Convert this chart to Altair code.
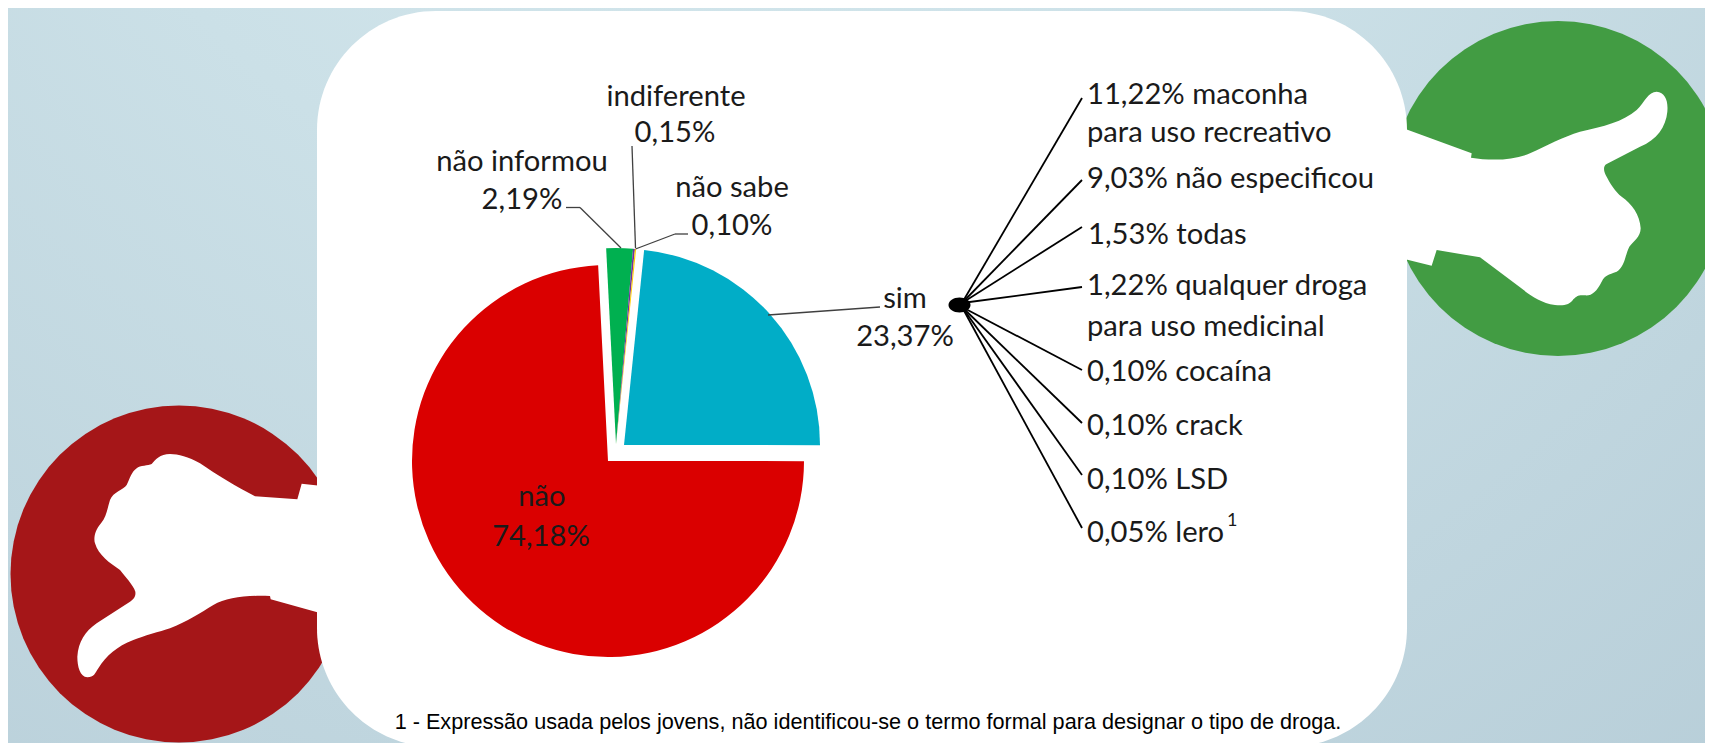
import math
import altair as alt
import pandas as pd

# ---- chart values ----
slice_names = ["sim", "não", "não informou", "indiferente", "não sabe"]
slice_values = [23.37, 74.18, 2.19, 0.15, 0.10]
slice_colors = ["#01ADC7", "#DA0000", "#00B050", "#7030A0", "#FFD000"]
slice_labels_top = ["sim", "não", "não informou", "indiferente", "não sabe"]
slice_labels_pct = ["23,37%", "74,18%", "2,19%", "0,15%", "0,10%"]
detail_lines = ["11,22% maconha", "para uso recreativo", "9,03% não especificou", "1,53% todas",
                "1,22% qualquer droga", "para uso medicinal", "0,10% cocaína", "0,10% crack",
                "0,10% LSD", "0,05% lero"]
footnote = "1 - Expressão usada pelos jovens, não identificou-se o termo formal para designar o tipo de droga."

W, H = 1697, 735
def X(v): return alt.value(v - 8)
def Y(v): return alt.value(v - 8)

df = pd.DataFrame({"cat": slice_names, "value": slice_values, "ord": range(len(slice_names))})
one = pd.DataFrame({"k": [0]})

bg = alt.Chart(one).mark_rect(
    fill=alt.Gradient(gradient="radial", x1=0.42, y1=0.0, x2=0.42, y2=0.0, r1=0, r2=1.05,
                      stops=[alt.GradientStop(color="#D9EBF0", offset=0),
                             alt.GradientStop(color="#CBE0E7", offset=0.4),
                             alt.GradientStop(color="#B4CBD6", offset=1)])
).encode(x=alt.value(0), x2=alt.value(W), y=alt.value(0), y2=alt.value(H))

def disc(cx, cy, d, color):
    return alt.Chart(one).mark_arc(fill=color, outerRadius=d / 2, theta=0, theta2=2 * math.pi).encode(x=X(cx), y=Y(cy))

def glyph(path, ox, oy, scale, color="#FFFFFF"):
    return alt.Chart(one).mark_point(shape=path, size=(2 * scale) ** 2, filled=True, fill=color,
                                     opacity=1, strokeWidth=0).encode(x=X(ox), y=Y(oy))

THUMB_UP = ("M 190,385 L 395,460 L 393,473 C 450,482 520,482 570,460 C 620,437 670,410 720,395 "
            "C 790,380 850,365 890,330 C 915,305 925,275 950,275 C 975,278 985,300 982,335 "
            "C 978,380 950,420 900,440 L 800,492 C 790,497 790,510 797,525 C 810,550 825,575 845,590 "
            "C 875,610 900,645 902,685 C 902,710 880,725 868,740 C 855,765 855,800 830,815 "
            "C 805,825 795,825 785,845 C 770,875 755,888 735,886 C 715,884 710,888 700,898 "
            "C 690,915 670,918 645,915 C 600,908 570,885 540,862 L 420,772 L 290,750 L 275,797 L 190,776 Z")
THUMB_DOWN = ("M 960,317 L 905,311 L 892,358 L 765,349 C 710,320 650,285 600,250 C 565,230 535,222 510,222 "
              "C 480,222 465,240 455,252 C 445,258 420,255 410,265 C 395,275 390,295 380,315 "
              "C 370,330 340,335 330,360 C 322,385 320,410 303,430 C 285,450 280,475 285,490 "
              "C 295,525 330,550 360,570 C 375,590 400,615 406,635 C 408,650 400,658 390,665 L 290,730 "
              "C 255,755 235,785 232,830 C 232,860 240,890 262,892 C 282,892 285,880 295,865 "
              "C 320,825 350,800 400,780 C 430,768 480,755 510,745 C 560,725 600,700 640,675 "
              "C 680,652 740,645 810,648 L 812,658 L 960,699 Z")

panel = alt.Chart(one).mark_rect(fill="#FFFFFF", cornerRadius=119).encode(
    x=X(317), x2=X(1407), y=Y(11), y2=Y(747))

def slices(names, cx, cy):
    return alt.Chart(df).transform_stack(
        stack="value", as_=["a", "b"], groupby=[], sort=[alt.SortField("ord")]
    ).transform_filter(alt.FieldOneOfPredicate(field="cat", oneOf=names)).mark_arc(outerRadius=196).encode(
        theta=alt.Theta("a:Q", stack=None, scale=alt.Scale(domain=[0, sum(slice_values)],
                        range=[math.radians(5.9), math.radians(5.9) + 2 * math.pi])),
        theta2="b:Q",
        color=alt.Color("cat:N", legend=None, scale=alt.Scale(domain=slice_names, range=slice_colors)),
        x=X(cx), y=Y(cy))

def seg(x0, y0, x1, y1, color="#000000", w=1.5):
    return alt.Chart(one).mark_rule(color=color, strokeWidth=w).encode(x=X(x0), y=Y(y0), x2=X(x1), y2=Y(y1))

def txt(s, x, y, size=29.2, align="center", font="Lato", color="#1A1A1A"):
    return alt.Chart(one).mark_text(text=s, fontSize=size, font=font, align=align, baseline="middle",
                                    color=color).encode(x=X(x), y=Y(y))

layers = [bg, disc(1558, 188.5, 335, "#429C43"), disc(179, 574, 337, "#A51618"),
          panel, glyph(THUMB_UP, 1340, 0, 1 / 3), glyph(THUMB_DOWN, 0, 380, 1 / 3),
          slices(["não"], 608, 461), slices(["sim"], 624, 445),
          slices(["não informou", "indiferente", "não sabe"], 616, 444)]

# leader lines of the pie labels
LEAD = "#404040"
layers += [seg(768, 315, 880, 307, LEAD, 1.3),
           seg(566, 207.5, 580, 207.5, LEAD, 1.3), seg(580, 207.5, 621, 248, LEAD, 1.3),
           seg(632, 146, 635.5, 248, LEAD, 1.3),
           seg(635.5, 249, 675, 234, LEAD, 1.3), seg(675, 234, 688, 234, LEAD, 1.3)]

# fan of lines from the hub
hub = (962, 303)
fan_ends = [(1082, 98), (1082, 180), (1082, 227), (1082, 287), (1082, 370), (1082, 423), (1082, 475), (1082, 528)]
layers += [seg(hub[0], hub[1] + (0 if i < 4 else 4), ex, ey, "#000000", 1.8) for i, (ex, ey) in enumerate(fan_ends)]
layers.append(glyph("M -11,0 A 11,7.5 0 1 1 11,0 A 11,7.5 0 1 1 -11,0 Z", 959.5, 305, 1, "#000000"))

# pie labels
label_pos = {"sim": (905, 298.5, 905, 337), "não": (542, 496.5, 541, 537), "não informou": (522, 162, 522, 200),
             "indiferente": (676, 97, 675, 133), "não sabe": (732, 188, 732, 226)}
for top, pct in zip(slice_labels_top, slice_labels_pct):
    x0, y0, x1, y1 = label_pos[top]
    layers += [txt(top, x0, y0), txt(pct, x1, y1)]

detail_pos = [(1087, 95), (1087, 133), (1087, 179), (1088, 235), (1087, 286), (1087, 327),
              (1087, 372), (1087, 426), (1087, 480), (1087, 533)]
for s, (x, y) in zip(detail_lines, detail_pos):
    layers.append(txt(s, x, y, align="left"))
layers.append(txt("1", 1227, 521, size=18, align="left"))
layers.append(txt(footnote, 868, 723, size=21.65, font="Liberation Sans", color="#000000"))

chart = alt.layer(*layers).properties(
    width=W, height=H, padding=0, autosize=alt.AutoSizeParams(type="none")
).configure_view(stroke=None)

chart.save("out.html", embed_options={"renderer": "svg", "actions": False})
